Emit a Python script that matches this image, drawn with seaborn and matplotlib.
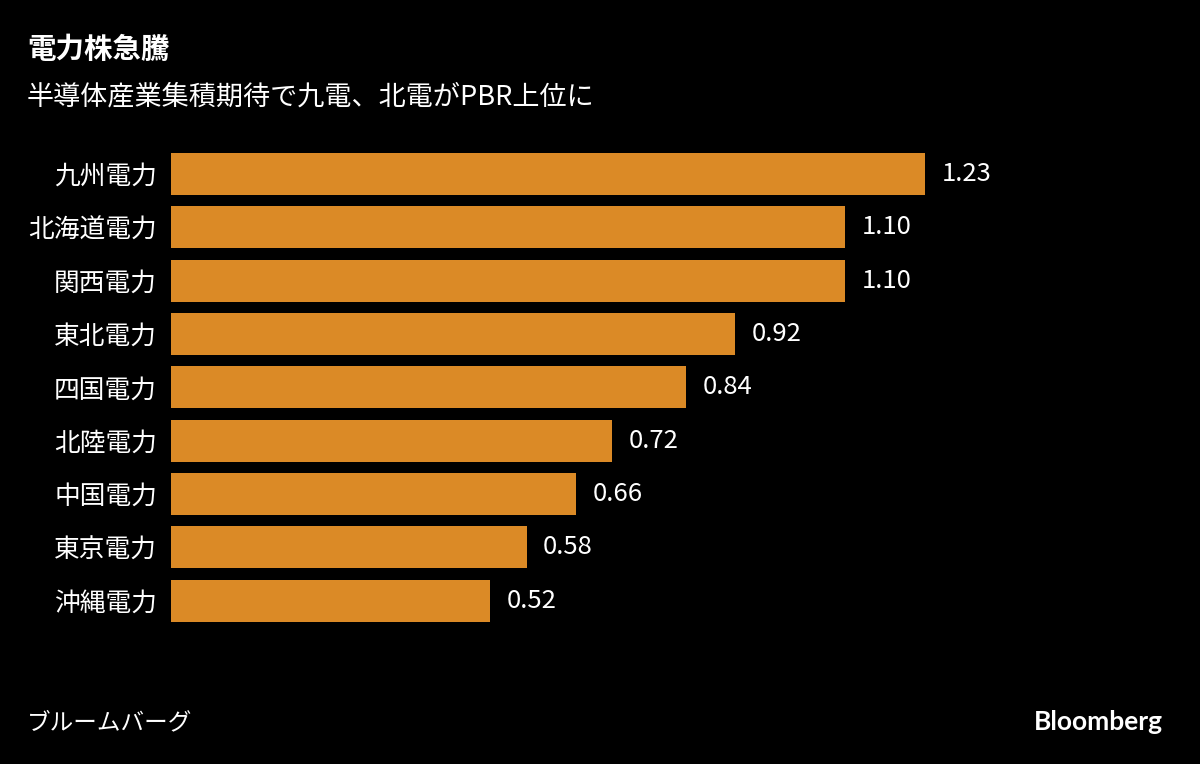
import matplotlib
matplotlib.use("Agg")
import matplotlib.pyplot as plt
import seaborn as sns
import pandas as pd

companies = ["九州電力", "北海道電力", "関西電力", "東北電力", "四国電力",
             "北陸電力", "中国電力", "東京電力", "沖縄電力"]
pbr = [1.23, 1.10, 1.10, 0.92, 0.84, 0.72, 0.66, 0.58, 0.52]
value_labels = ["1.23", "1.10", "1.10", "0.92", "0.84", "0.72", "0.66", "0.58", "0.52"]

title = "電力株急騰"
subtitle = "半導体産業集積期待で九電、北電がPBR上位に"
source = "ブルームバーグ"
brand = "Bloomberg"

bar_color = "#DB8A26"
bg = "black"

sns.set_style("dark")
plt.rcParams['font.family'] = ['Noto Sans CJK JP', 'DejaVu Sans']

df = pd.DataFrame({"company": companies, "pbr": pbr})

fig = plt.figure(figsize=(12, 7.64), dpi=100, facecolor=bg)
# axes 920 px wide; 1.23 -> 754 px
ax = fig.add_axes([171 / 1200, 0.179, 920 / 1200, 0.628])
ax.set_facecolor(bg)

sns.barplot(data=df, x="pbr", y="company", orient="h", color=bar_color,
            width=0.79, saturation=1, linewidth=0, edgecolor="none", ax=ax)

ax.set_xlim(0, 920 / 754 * 1.23)
ax.set_ylim(8.5, -0.5)
for sp in ax.spines.values():
    sp.set_visible(False)
ax.set_xticks([])
ax.set_xlabel("")
ax.set_ylabel("")
ax.tick_params(axis="y", length=0, pad=10, labelsize=18.5, labelcolor="white")
ax.grid(False)

for c in ax.containers:
    ax.bar_label(c, labels=value_labels, padding=12, color="white", fontsize=18.5)

fig.text(27 / 1200, 1 - 50 / 764, title, color="white", fontsize=20.5,
         fontweight="bold", va="center", ha="left")
fig.text(27 / 1200, 1 - 97 / 764, subtitle, color="white", fontsize=19.5,
         va="center", ha="left")
fig.text(27 / 1200, 1 - 723 / 764, source, color="white", fontsize=17,
         va="center", ha="left")
fig.text(1163 / 1200, 1 - 722 / 764, brand, color="white", fontsize=19,
         fontweight="bold", va="center", ha="right", family=["Lato", "DejaVu Sans"])

fig.savefig("out.png", dpi=100, facecolor=bg)
